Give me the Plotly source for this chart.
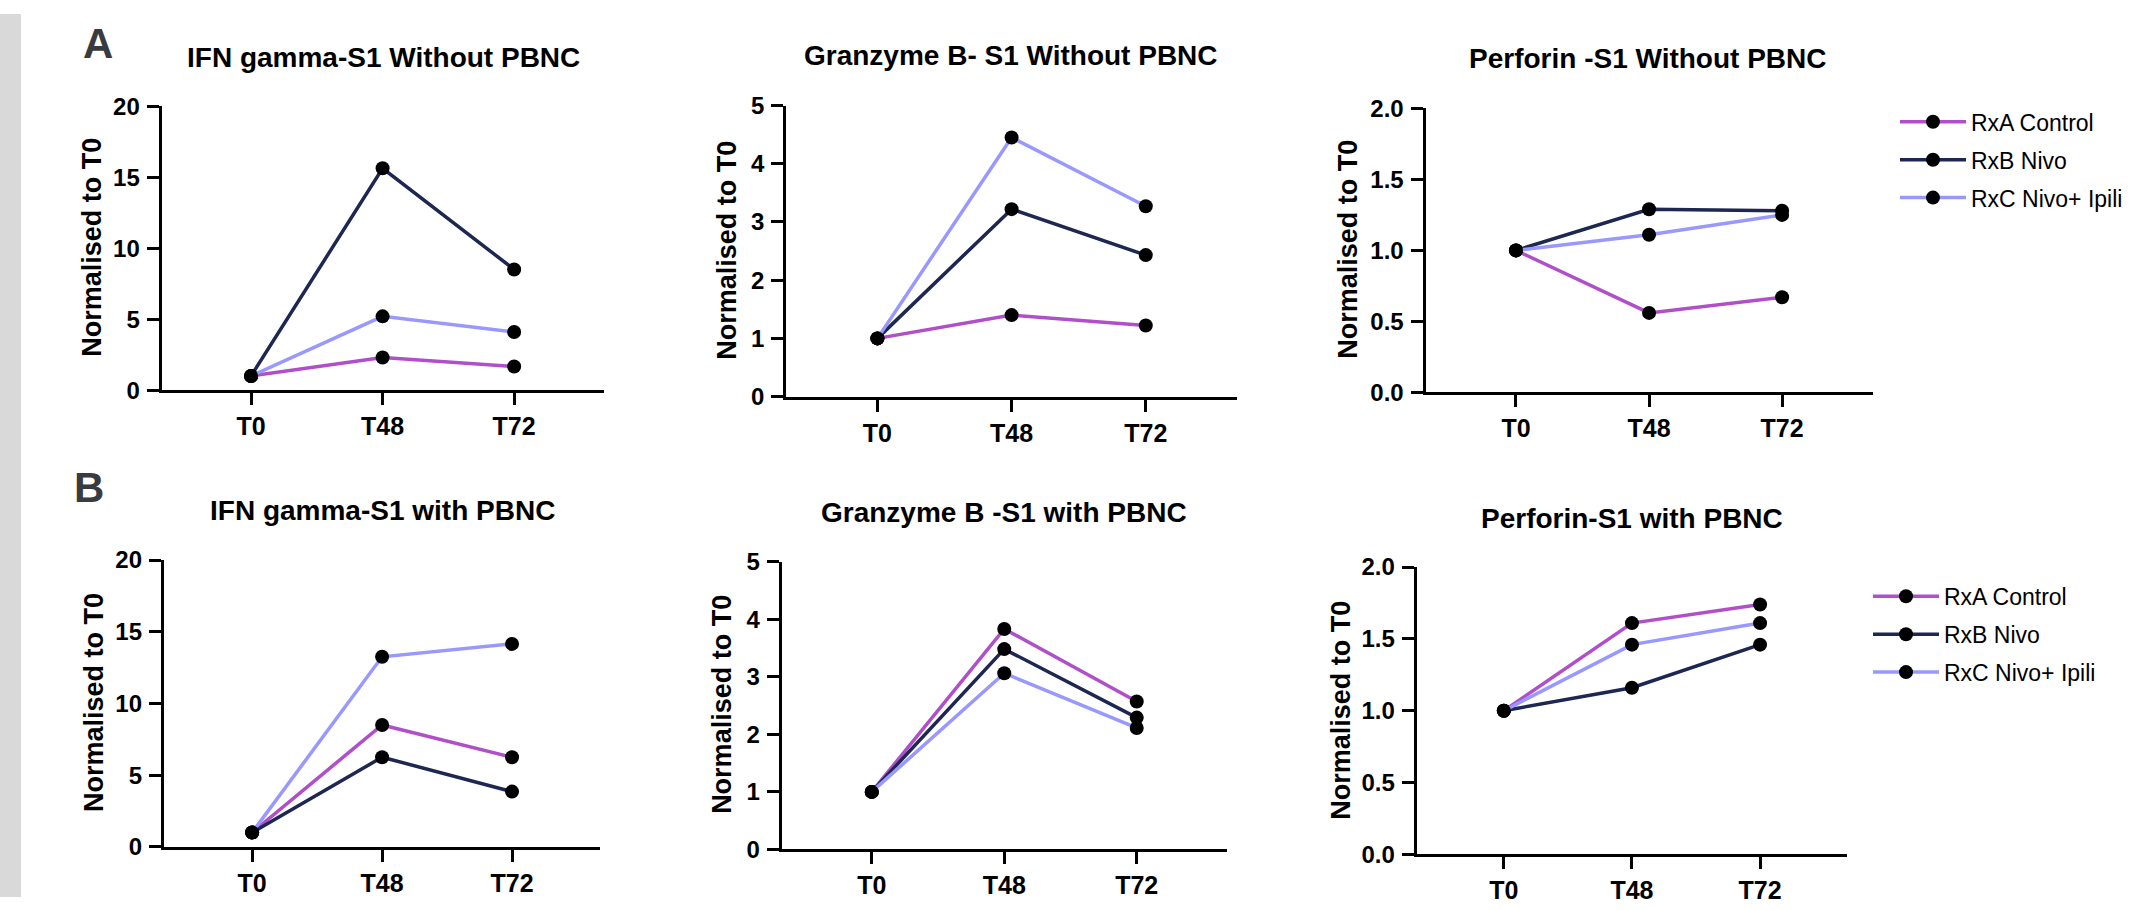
import plotly.graph_objects as go

W, H = 2150, 910

# ---------------- data ----------------
categories = ["T0", "T48", "T72"]
series_names = ["RxA Control", "RxB Nivo", "RxC Nivo+ Ipili"]
series_colors = ["#b04fc9", "#1d2751", "#9898ff"]

# Row A: without PBNC
ifn_wo_rxa = [1.0, 2.3, 1.67]
ifn_wo_rxb = [1.0, 15.63, 8.5]
ifn_wo_rxc = [1.0, 5.2, 4.1]
gzb_wo_rxa = [1.0, 1.4, 1.22]
gzb_wo_rxb = [1.0, 3.22, 2.43]
gzb_wo_rxc = [1.0, 4.45, 3.27]
prf_wo_rxa = [1.0, 0.56, 0.67]
prf_wo_rxb = [1.0, 1.29, 1.28]
prf_wo_rxc = [1.0, 1.11, 1.25]

# Row B: with PBNC
ifn_w_rxa = [1.0, 8.5, 6.25]
ifn_w_rxb = [1.0, 6.25, 3.85]
ifn_w_rxc = [1.0, 13.25, 14.15]
gzb_w_rxa = [1.0, 3.83, 2.57]
gzb_w_rxb = [1.0, 3.48, 2.29]
gzb_w_rxc = [1.0, 3.06, 2.11]
prf_w_rxa = [1.0, 1.61, 1.74]
prf_w_rxb = [1.0, 1.16, 1.46]
prf_w_rxc = [1.0, 1.46, 1.61]

panel_titles = [
    "IFN gamma-S1 Without PBNC", "Granzyme B- S1 Without PBNC", "Perforin -S1 Without PBNC",
    "IFN gamma-S1 with PBNC", "Granzyme B -S1 with PBNC", "Perforin-S1 with PBNC",
]
panel_data = [
    [ifn_wo_rxa, ifn_wo_rxb, ifn_wo_rxc],
    [gzb_wo_rxa, gzb_wo_rxb, gzb_wo_rxc],
    [prf_wo_rxa, prf_wo_rxb, prf_wo_rxc],
    [ifn_w_rxa, ifn_w_rxb, ifn_w_rxc],
    [gzb_w_rxa, gzb_w_rxb, gzb_w_rxc],
    [prf_w_rxa, prf_w_rxb, prf_w_rxc],
]
y_ranges = [[0, 20], [0, 5], [0, 2], [0, 20], [0, 5], [0, 2]]
y_dticks = [5, 1, 0.5, 5, 1, 0.5]
y_formats = ["d", "d", ".1f", "d", "d", ".1f"]
y_title = "Normalised to T0"

# ---------------- layout geometry (pixels) ----------------
# (left, right, top, bottom) of each plot area
boxes = [
    (161.6, 603.6, 95.0, 387.7),
    (786.2, 1237.0, 94.3, 394.3),
    (1425.5, 1872.6, 97.3, 390.0),
    (163.8, 600.4, 562.7, 858.3),
    (781.7, 1226.8, 564.3, 861.0),
    (1416.7, 1847.2, 570.0, 866.0),
]
title_pos = [(383, 45), (1011, 43), (1648, 46), (382, 512), (1004, 514), (1632, 520)]
ytitle_pos = [(92, 241), (727, 244), (1348, 243), (94, 710), (722, 712), (1341, 718)]

FONT = "Liberation Sans, Arial, Helvetica, sans-serif"

fig = go.Figure()

for p in range(6):
    ax = "" if p == 0 else str(p + 1)
    for s in range(3):
        legend_name = None
        show = False
        if p == 2:
            show, legend_name = True, "legend"
        elif p == 5:
            show, legend_name = True, "legend2"
        tr = dict(
            x=categories,
            y=panel_data[p][s],
            mode="lines+markers",
            name=series_names[s],
            line=dict(color=series_colors[s], width=3.5),
            marker=dict(color="black", size=14),
            xaxis="x" + ax,
            yaxis="y" + ax,
            showlegend=show,
            legendgroup=f"{legend_name}_{s}",
            hoverinfo="x+y+name",
        )
        if legend_name:
            tr["legend"] = legend_name
        fig.add_trace(go.Scatter(**tr))

layout = dict(
    width=W, height=H,
    margin=dict(l=0, r=0, t=0, b=0),
    paper_bgcolor="white",
    plot_bgcolor="white",
    font=dict(family=FONT, color="black"),
    showlegend=True,
)

annotations = []
for p in range(6):
    l, r, t, b = boxes[p]
    ax = "" if p == 0 else str(p + 1)
    layout["xaxis" + ax] = dict(
        domain=[l / W, r / W],
        anchor="y" + ax,
        type="category",
        range=[-0.68, 2.68],
        showline=True, linecolor="black", linewidth=3,
        ticks="outside", ticklen=12, tickwidth=3, tickcolor="black",
        showgrid=False, zeroline=False,
        tickfont=dict(family=FONT, size=25, color="black", weight="bold"),
        ticklabelstandoff=0,
        fixedrange=True,
    )
    layout["yaxis" + ax] = dict(
        domain=[1 - b / H, 1 - t / H],
        anchor="x" + ax,
        range=y_ranges[p],
        dtick=y_dticks[p],
        tick0=0,
        tickformat=y_formats[p],
        showline=True, linecolor="black", linewidth=3,
        ticks="outside", ticklen=12, tickwidth=3, tickcolor="black",
        showgrid=False, zeroline=False,
        tickfont=dict(family=FONT, size=24, color="black", weight="bold"),
        ticklabelstandoff=2,
        fixedrange=True,
    )
    tx, ty = title_pos[p]
    annotations.append(dict(
        text=panel_titles[p], x=tx / W, y=1 - ty / H, xref="paper", yref="paper",
        xanchor="center", yanchor="middle", showarrow=False,
        font=dict(family=FONT, size=28, color="black", weight="bold"),
    ))
    yx, yy = ytitle_pos[p]
    annotations.append(dict(
        text=y_title, x=yx / W, y=1 - yy / H, xref="paper", yref="paper",
        xanchor="center", yanchor="middle", showarrow=False, textangle=-90,
        font=dict(family=FONT, size=27, color="black", weight="bold"),
    ))

# panel letters
annotations.append(dict(text="A", x=97.5 / W, y=1 - 30.5 / H, xref="paper", yref="paper",
                        xanchor="center", yanchor="middle", showarrow=False,
                        font=dict(family=FONT, size=42, color="#383b40", weight="bold")))
annotations.append(dict(text="B", x=89 / W, y=1 - 487.5 / H, xref="paper", yref="paper",
                        xanchor="center", yanchor="middle", showarrow=False,
                        font=dict(family=FONT, size=42, color="#383b40", weight="bold")))
layout["annotations"] = annotations

layout["shapes"] = [dict(type="rect", xref="paper", yref="paper", x0=0, x1=21 / W, y0=0, y1=1,
                         fillcolor="#d9d9d9", line=dict(width=0), layer="below")]

legend_common = dict(
    xanchor="left", yanchor="top",
    font=dict(family=FONT, size=23, color="black"),
    bgcolor="rgba(0,0,0,0)",
    tracegroupgap=5,
    itemwidth=66,
)
layout["legend"] = dict(x=1895 / W, y=1 - 89 / H, **legend_common)
layout["legend2"] = dict(x=1868 / W, y=1 - 578 / H, **legend_common)

fig.update_layout(**layout)
fig.write_html(
    "out.html",
    config={"displayModeBar": False},
    post_script="document.body.style.margin='0';document.body.style.overflow='hidden';",
)
